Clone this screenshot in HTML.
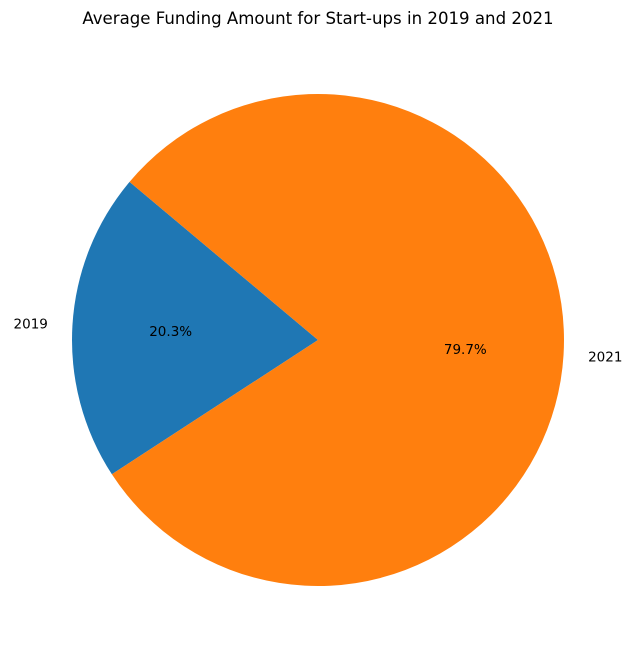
<!DOCTYPE html>
<html>
<head>
<meta charset="utf-8">
<style>
  html, body { margin: 0; padding: 0; background: #fff; }
  svg { display: block; font-family: "DejaVu Sans", "Liberation Sans", sans-serif; }
</style>
</head>
<body>
<svg id="chart" width="636" height="658" viewBox="0 0 636 658">
  <text x="318" y="24" text-anchor="middle" font-size="16.6" fill="#000">Average Funding Amount for Start-ups in 2019 and 2021</text>
  <g id="slices"></g>
</svg>
<script>
const categories = ["2019", "2021"];
const values = [20.3, 79.7];
const colors = ["#1f77b4", "#ff7f0e"];

const cx = 318, cy = 340, r = 246, startAngle = 140;
const total = values.reduce((a, b) => a + b, 0);
const g = document.getElementById('slices');
const NS = "http://www.w3.org/2000/svg";
function pt(deg, rad) {
  const a = deg * Math.PI / 180;
  return [cx + rad * Math.cos(a), cy - rad * Math.sin(a)];
}
let ang = startAngle;
values.forEach((v, i) => {
  const sweep = v / total * 360;
  const a0 = ang, a1 = ang + sweep;
  const p0 = pt(a0, r), p1 = pt(a1, r);
  const large = sweep > 180 ? 1 : 0;
  const path = document.createElementNS(NS, 'path');
  path.setAttribute('d', `M${cx},${cy} L${p0[0]},${p0[1]} A${r},${r} 0 ${large} 0 ${p1[0]},${p1[1]} Z`);
  path.setAttribute('fill', colors[i]);
  
  
  g.appendChild(path);

  const mid = (a0 + a1) / 2;
  const lp = pt(mid, r * 1.1);
  const lab = document.createElementNS(NS, 'text');
  lab.setAttribute('x', lp[0]);
  lab.setAttribute('y', lp[1] + 5);
  lab.setAttribute('font-size', '13.5');
  lab.setAttribute('text-anchor', Math.cos(mid * Math.PI / 180) < 0 ? 'end' : 'start');
  lab.textContent = categories[i];
  
  
  g.appendChild(lab);

  const pp = pt(mid, r * 0.6);
  const pct = document.createElementNS(NS, 'text');
  pct.setAttribute('x', pp[0]);
  pct.setAttribute('y', pp[1] + 5);
  pct.setAttribute('font-size', '13.5');
  pct.setAttribute('text-anchor', 'middle');
  pct.textContent = (v / total * 100).toFixed(1) + '%';
  
  
  g.appendChild(pct);

  ang = a1;
});
</script>
</body>
</html>
